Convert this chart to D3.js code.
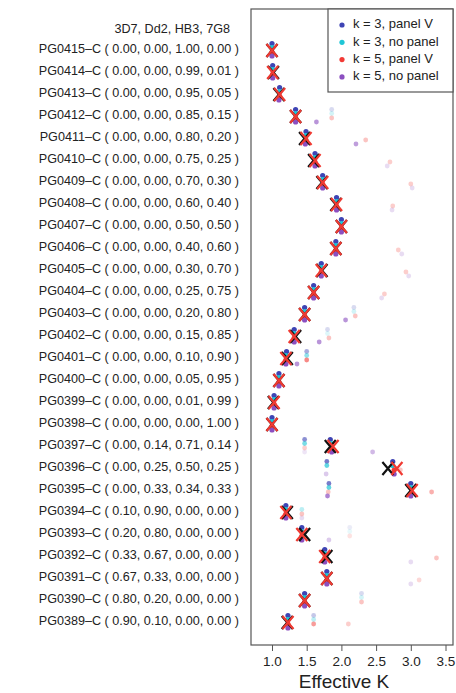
<!DOCTYPE html>
<html>
<head>
<meta charset="utf-8">
<script src="https://cdn.jsdelivr.net/npm/d3@7"></script>
<style>
  body { margin: 0; background: #fff; }
  svg { font-family: "Liberation Sans", Arial, sans-serif; }
</style>
</head>
<body>
<svg></svg>
<script>
var width = 456;
var height = 693;

// sample names and mixing proportions (3D7, Dd2, HB3, 7G8)
var samples = ["PG0415", "PG0414", "PG0413", "PG0412", "PG0411", "PG0410", "PG0409",
  "PG0408", "PG0407", "PG0406", "PG0405", "PG0404", "PG0403", "PG0402", "PG0401",
  "PG0400", "PG0399", "PG0398", "PG0397", "PG0396", "PG0395", "PG0394", "PG0393",
  "PG0392", "PG0391", "PG0390", "PG0389"];
var props = [
  "0.00, 0.00, 1.00, 0.00", "0.00, 0.00, 0.99, 0.01", "0.00, 0.00, 0.95, 0.05",
  "0.00, 0.00, 0.85, 0.15", "0.00, 0.00, 0.80, 0.20", "0.00, 0.00, 0.75, 0.25",
  "0.00, 0.00, 0.70, 0.30", "0.00, 0.00, 0.60, 0.40", "0.00, 0.00, 0.50, 0.50",
  "0.00, 0.00, 0.40, 0.60", "0.00, 0.00, 0.30, 0.70", "0.00, 0.00, 0.25, 0.75",
  "0.00, 0.00, 0.20, 0.80", "0.00, 0.00, 0.15, 0.85", "0.00, 0.00, 0.10, 0.90",
  "0.00, 0.00, 0.05, 0.95", "0.00, 0.00, 0.01, 0.99", "0.00, 0.00, 0.00, 1.00",
  "0.00, 0.14, 0.71, 0.14", "0.00, 0.25, 0.50, 0.25", "0.00, 0.33, 0.34, 0.33",
  "0.10, 0.90, 0.00, 0.00", "0.20, 0.80, 0.00, 0.00", "0.33, 0.67, 0.00, 0.00",
  "0.67, 0.33, 0.00, 0.00", "0.80, 0.20, 0.00, 0.00", "0.90, 0.10, 0.00, 0.00"];

// true effective K (black X) and estimated (red X)
var trueK = [1.00, 1.02, 1.10, 1.34, 1.47, 1.60, 1.72, 1.92, 2.00, 1.92, 1.72, 1.60, 1.47, 1.34,
  1.22, 1.10, 1.02, 1.00, 1.84, 2.67, 3.00, 1.22, 1.47, 1.79, 1.79, 1.47, 1.22];
var estK = [1.00, 1.01, 1.11, 1.34, 1.49, 1.62, 1.73, 1.93, 2.00, 1.92, 1.71, 1.60, 1.47, 1.32,
  1.20, 1.10, 1.03, 1.00, 1.88, 2.80, 3.02, 1.20, 1.43, 1.76, 1.79, 1.47, 1.23];

// main estimate of each run
var k3Panel = [1.00, 1.01, 1.11, 1.34, 1.49, 1.62, 1.73, 1.93, 2.00, 1.92, 1.71, 1.60, 1.47, 1.32,
  1.21, 1.10, 1.03, 1.00, 1.84, 2.74, 3.00, 1.20, 1.43, 1.76, 1.79, 1.47, 1.23];
var k3None = [1.00, 1.01, 1.11, 1.34, 1.49, 1.62, 1.73, 1.93, 2.00, 1.92, 1.71, 1.60, 1.47, 1.32,
  1.20, 1.10, 1.03, 1.00, 1.85, 2.74, 3.00, 1.20, 1.43, 1.76, 1.79, 1.47, 1.23];
var k5Panel = [1.00, 1.01, 1.11, 1.34, 1.49, 1.62, 1.73, 1.93, 2.00, 1.92, 1.71, 1.60, 1.47, 1.32,
  1.20, 1.10, 1.03, 1.00, 1.86, 2.76, 3.01, 1.20, 1.43, 1.76, 1.79, 1.47, 1.23];
var k5None = [1.00, 1.01, 1.10, 1.34, 1.48, 1.62, 1.73, 1.93, 2.00, 1.92, 1.71, 1.60, 1.47, 1.32,
  1.20, 1.10, 1.03, 1.00, 1.86, 2.76, 3.00, 1.20, 1.43, 1.76, 1.79, 1.47, 1.23];

// minor (faint) estimates: row, series (0..3), value, alpha
var fadeRow =    [3, 3, 3, 3, 4, 4, 5, 5, 6, 6, 7, 7, 9, 9, 10, 10, 11, 11,
  12, 12, 12, 12, 13, 13, 13, 13, 14, 14, 14, 14, 18, 18, 18, 18, 18,
  19, 19, 19, 19, 20, 20, 20, 20, 20, 21, 21, 21, 22, 22, 22, 22,
  23, 23, 24, 24, 25, 25, 25, 26, 26, 26, 26];
var fadeSeries = [0, 1, 2, 3, 3, 2, 2, 3, 2, 3, 2, 3, 2, 3, 2, 3, 2, 3,
  0, 1, 2, 3, 0, 1, 2, 3, 0, 1, 2, 3, 0, 1, 2, 3, 3,
  0, 1, 3, 2, 0, 1, 2, 3, 2, 3, 1, 2, 0, 1, 2, 3,
  2, 3, 2, 3, 0, 1, 2, 0, 1, 2, 2];
var fadeK =      [1.86, 1.86, 1.86, 1.64, 2.21, 2.35, 2.70, 2.66, 3.00, 3.02, 2.74, 2.73, 2.82, 2.87, 2.93, 2.97, 2.62, 2.58,
  2.18, 2.18, 2.20, 2.06, 1.80, 1.80, 1.82, 1.68, 1.50, 1.50, 1.50, 1.36, 1.47, 1.47, 1.47, 1.47, 2.45,
  1.79, 1.79, 1.78, 2.85, 1.82, 1.82, 1.81, 1.80, 3.30, 1.43, 1.43, 1.43, 2.12, 2.12, 2.12, 1.82,
  3.37, 3.00, 3.12, 3.00, 2.29, 2.29, 2.29, 1.60, 1.60, 1.60, 2.10];
var fadeAlpha =  [0.2, 0.2, 0.3, 0.6, 0.55, 0.3, 0.25, 0.2, 0.25, 0.2, 0.25, 0.2, 0.25, 0.2, 0.25, 0.2, 0.25, 0.2,
  0.2, 0.2, 0.3, 0.6, 0.2, 0.15, 0.3, 0.6, 0.45, 0.5, 0.6, 0.6, 0.6, 0.6, 0.25, 0.15, 0.4,
  0.7, 0.7, 0.3, 0.3, 0.7, 0.7, 0.3, 0.7, 0.4, 0.2, 0.3, 0.3, 0.1, 0.1, 0.15, 0.3,
  0.3, 0.2, 0.2, 0.2, 0.2, 0.2, 0.3, 0.3, 0.3, 0.5, 0.25];

var seriesNames = ["k = 3, panel V", "k = 3, no panel", "k = 5, panel V", "k = 5, no panel"];
var seriesColors = ["#3e44b4", "#1fc6d6", "#f23a35", "#8b4fc0"];
var seriesOffset = [-6.5, -2.5, 2, 6];
var xTicks = [1.0, 1.5, 2.0, 2.5, 3.0, 3.5];

var svg = d3.select("svg")
  .attr("width", width)
  .attr("height", height);

var plot = {left: 251, right: 453, top: 9, bottom: 645};

var x = d3.scaleLinear().domain([1, 3.5]).range([272, 445.5]);
var y = d3.scalePoint().domain(d3.range(samples.length)).range([50, 622]);

// plot frame
svg.append("rect")
  .attr("x", plot.left).attr("y", plot.top)
  .attr("width", plot.right - plot.left).attr("height", plot.bottom - plot.top)
  .attr("fill", "none").attr("stroke", "#555").attr("stroke-width", 1.2);

// row labels
svg.append("text")
  .attr("x", 230).attr("y", 30)
  .attr("text-anchor", "end").attr("dominant-baseline", "middle")
  .attr("font-size", "12.6px").attr("fill", "#222")
  .text("3D7, Dd2, HB3, 7G8");

svg.selectAll(".lab")
  .data(samples)
  .enter().append("text")
  .attr("class", "lab")
  .attr("x", 239)
  .attr("y", function(d, i) { return y(i); })
  .attr("text-anchor", "end").attr("dominant-baseline", "middle")
  .attr("font-size", "12.6px").attr("fill", "#222")
  .text(function(d, i) { return d + "\u2013C ( " + props[i] + " )"; });

// faint points
var fade = fadeRow.map(function(r, i) {
  return {row: r, s: fadeSeries[i], k: fadeK[i], a: fadeAlpha[i]};
});
svg.selectAll(".fade")
  .data(fade)
  .enter().append("circle")
  .attr("class", "fade")
  .attr("cx", function(d) { return x(d.k); })
  .attr("cy", function(d) { return y(d.row) + seriesOffset[d.s]; })
  .attr("r", 2.4)
  .attr("fill", function(d) { return seriesColors[d.s]; })
  .attr("fill-opacity", function(d) { return d.a; });

// main points
var mains = [k3Panel, k3None, k5Panel, k5None];
mains.forEach(function(vals, s) {
  svg.selectAll(".m" + s)
    .data(vals)
    .enter().append("circle")
    .attr("class", "m" + s)
    .attr("cx", function(d) { return x(d); })
    .attr("cy", function(d, i) { return y(i) + seriesOffset[s]; })
    .attr("r", 2.6)
    .attr("fill", seriesColors[s]);
});

function cross(sel, vals, color) {
  var h = 5.5, v = 6.5;
  sel.selectAll(null)
    .data(vals)
    .enter().append("path")
    .attr("d", function(d, i) {
      var cx = x(d), cy = y(i) + 0.5;
      return "M" + (cx - h) + "," + (cy - v) + "L" + (cx + h) + "," + (cy + v) +
        "M" + (cx - h) + "," + (cy + v) + "L" + (cx + h) + "," + (cy - v);
    })
    .attr("stroke", color)
    .attr("stroke-width", 2.2)
    .attr("fill", "none");
}
cross(svg.append("g"), trueK, "#111");
cross(svg.append("g"), estK, "#f03a32");

// x axis
var axis = svg.append("g")
  .attr("transform", "translate(0," + plot.bottom + ")")
  .call(d3.axisBottom(x).tickValues(xTicks).tickFormat(d3.format(".1f")).tickSize(6).tickPadding(5));
axis.select(".domain").remove();
axis.selectAll("line").attr("stroke", "#555");
axis.selectAll("text")
  .attr("font-size", "13.5px").attr("fill", "#222")
  .attr("font-family", "Liberation Sans, Arial, sans-serif");

svg.append("text")
  .attr("x", 344).attr("y", 683)
  .attr("text-anchor", "middle").attr("dominant-baseline", "middle")
  .attr("font-size", "19px").attr("fill", "#222")
  .text("Effective K");

// legend
var legend = svg.append("g");
legend.append("rect")
  .attr("x", 328).attr("y", plot.top)
  .attr("width", plot.right - 328).attr("height", 92 - plot.top)
  .attr("fill", "#fff").attr("stroke", "#555").attr("stroke-width", 1.2);

var item = legend.selectAll(".item")
  .data(seriesNames)
  .enter().append("g")
  .attr("transform", function(d, i) { return "translate(342," + (25 + 17.3 * i) + ")"; });
item.append("circle")
  .attr("r", 2.6)
  .attr("fill", function(d, i) { return seriesColors[i]; });
item.append("text")
  .attr("x", 11)
  .attr("dominant-baseline", "middle")
  .attr("font-size", "13px").attr("fill", "#222")
  .text(function(d) { return d; });
</script>
</body>
</html>
